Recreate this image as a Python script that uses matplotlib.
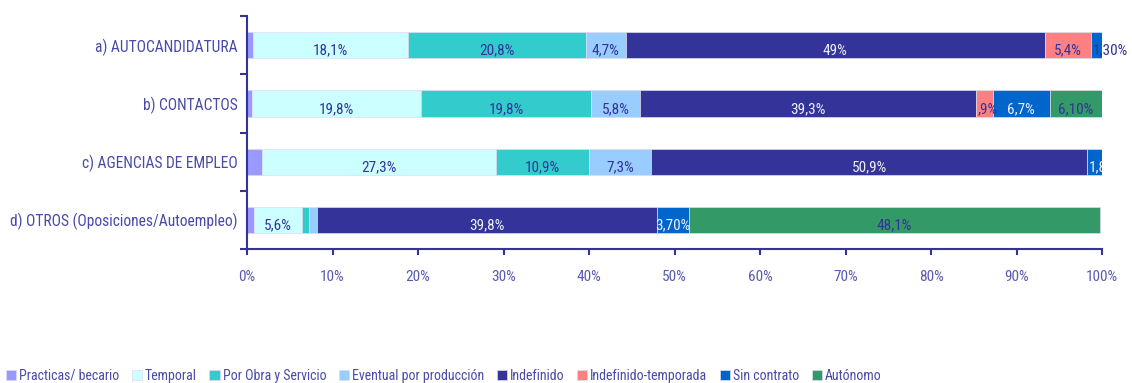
import numpy as np
import matplotlib
matplotlib.use('Agg')
import matplotlib.pyplot as plt

plt.rcParams['font.family'] = ['Roboto Condensed', 'Archivo Narrow', 'DejaVu Sans']

categorias = ['a) AUTOCANDIDATURA', 'b) CONTACTOS', 'c) AGENCIAS DE EMPLEO',
              'd) OTROS (Oposiciones/Autoempleo)']

series = ['Practicas/ becario', 'Temporal', 'Por Obra y Servicio',
          'Eventual por producción', 'Indefinido', 'Indefinido-temporada',
          'Sin contrato', 'Autónomo']

practicas = [0.7, 0.6, 1.8, 0.8]
temporal = [18.1, 19.8, 27.3, 5.6]
obra = [20.8, 19.8, 10.9, 0.9]
eventual = [4.7, 5.8, 7.3, 0.9]
indefinido = [49.0, 39.3, 50.9, 39.8]
indef_temp = [5.4, 1.9, 0.0, 0.0]
sin_contrato = [1.3, 6.7, 1.8, 3.7]
autonomo = [0.0, 6.1, 0.0, 48.1]

# etiquetas tal y como salen en el grafico
et_practicas = ['', '', '', '']
et_temporal = ['18,1%', '19,8%', '27,3%', '5,6%']
et_obra = ['20,8%', '19,8%', '10,9%', '']
et_eventual = ['4,7%', '5,8%', '7,3%', '']
et_indefinido = ['49%', '39,3%', '50,9%', '39,8%']
et_indef_temp = ['5,4%', ',9%', '', '']
et_sin_contrato = ['1,30%', '6,7%', '1,8', '3,70%']
et_autonomo = ['', '6,10%', '', '48,1%']

valores = [practicas, temporal, obra, eventual, indefinido, indef_temp,
           sin_contrato, autonomo]
etiquetas = [et_practicas, et_temporal, et_obra, et_eventual, et_indefinido,
             et_indef_temp, et_sin_contrato, et_autonomo]
colores = ['#9999FF', '#CCFFFF', '#33CCCC', '#99CCFF', '#333399', '#FF8080',
           '#0066CC', '#339966']
oscuros = {'#333399', '#0066CC'}

azul = '#333399'
texto = '#4a4aa8'

fig = plt.figure(figsize=(11.32, 3.83), dpi=100)
ax = fig.add_axes([0.2182, 0.3499, 0.7553, 0.6081])

y = np.arange(len(categorias))
izq = np.zeros(len(categorias))
for vals, etqs, col, nombre in zip(valores, etiquetas, colores, series):
    vals = np.array(vals)
    ax.barh(y, vals, left=izq, height=0.45, color=col, edgecolor='#dcdcf0',
            linewidth=0.5, label=nombre)
    for i in range(len(categorias)):
        if etqs[i] == '':
            continue
        c = '#eeeefa' if col in oscuros else azul
        if vals[i] < 3:
            # segmento estrecho: texto desde el borde izquierdo
            xt, ha = izq[i] + 0.2, 'left'
            if col == '#0066CC' and i == 0:
                c = azul
            clip = i == 2
        else:
            xt, ha = izq[i] + vals[i] / 2, 'center'
            clip = False
        ax.annotate(etqs[i], (xt, y[i]), xytext=(0, -4),
                    textcoords='offset points', ha=ha, va='center',
                    fontsize=11, color=c, annotation_clip=False,
                    clip_on=clip)
    izq = izq + vals

ax.set_xlim(0, 100)
ax.set_ylim(3.5, -0.5)
ax.set_xticks(np.arange(0, 101, 10))
ax.set_xticklabels([f'{v}%' for v in range(0, 101, 10)])
ax.set_yticks(y)
ax.set_yticklabels(categorias)
ax.set_yticks(np.arange(-0.5, 3.6, 1), minor=True)

for s in ['top', 'right']:
    ax.spines[s].set_visible(False)
for s in ['left', 'bottom']:
    ax.spines[s].set_color(azul)
    ax.spines[s].set_linewidth(1.5)

ax.tick_params(axis='y', which='major', length=0, pad=7, labelsize=11.2,
               labelcolor=texto)
ax.tick_params(axis='y', which='minor', length=5, width=1.5, color=azul)
ax.tick_params(axis='x', length=4, width=1.5, color=azul, pad=11,
               labelsize=11, labelcolor='#5a5ab4')

fig.legend(loc='lower left', bbox_to_anchor=(-0.006, -0.032), ncol=8,
           frameon=False, fontsize=10, handlelength=0.75, handleheight=0.75,
           handletextpad=0.2, columnspacing=0.9, labelcolor=texto)

fig.savefig('out.png', dpi=100)
